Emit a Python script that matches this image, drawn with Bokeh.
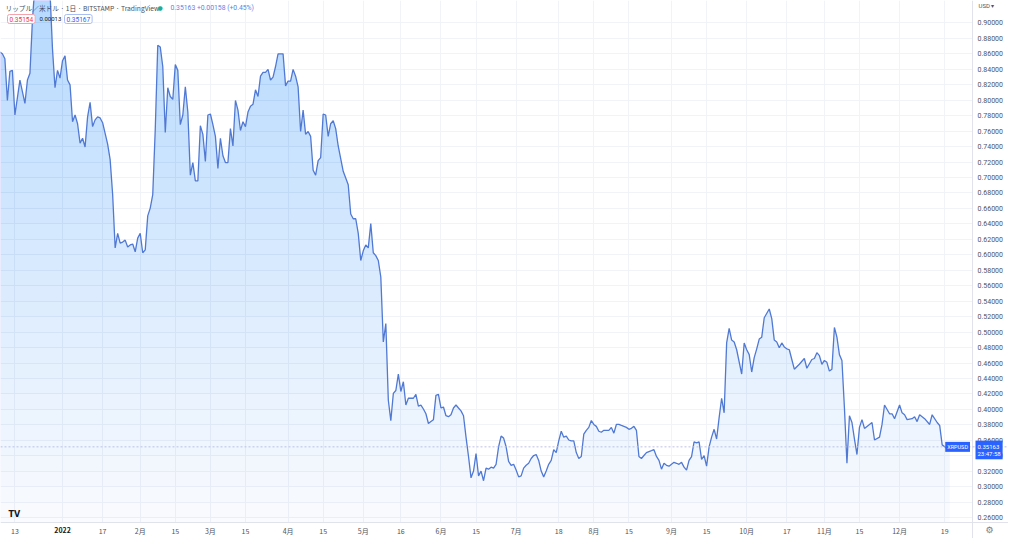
import numpy as np
import pandas as pd
from bokeh.plotting import figure
from bokeh.models import FixedTicker, PrintfTickFormatter, Label, Span, Range1d, ColumnDataSource, Grid
from bokeh.embed import file_html
from bokeh.resources import INLINE

# ---------------- data ----------------
dates = [
    "2021-12-07", "2021-12-08", "2021-12-09", "2021-12-10", "2021-12-11", "2021-12-12", "2021-12-13",
    "2021-12-15", "2021-12-17", "2021-12-18", "2021-12-19", "2021-12-20", "2021-12-21", "2021-12-22",
    "2021-12-23", "2021-12-24", "2021-12-25", "2021-12-26", "2021-12-27", "2021-12-28", "2021-12-29",
    "2021-12-30", "2021-12-31",
    "2022-01-01", "2022-01-02", "2022-01-03", "2022-01-04", "2022-01-05", "2022-01-06", "2022-01-07",
    "2022-01-08", "2022-01-09", "2022-01-10", "2022-01-11", "2022-01-12", "2022-01-13", "2022-01-14",
    "2022-01-15", "2022-01-16", "2022-01-17", "2022-01-18", "2022-01-19", "2022-01-20", "2022-01-21",
    "2022-01-22", "2022-01-23", "2022-01-24", "2022-01-25", "2022-01-26", "2022-01-27", "2022-01-28",
    "2022-01-29", "2022-01-30", "2022-01-31",
    "2022-02-01", "2022-02-02", "2022-02-03", "2022-02-04", "2022-02-05", "2022-02-06", "2022-02-07",
    "2022-02-08", "2022-02-09", "2022-02-10", "2022-02-11", "2022-02-12", "2022-02-13", "2022-02-14",
    "2022-02-15", "2022-02-16", "2022-02-17", "2022-02-18", "2022-02-19", "2022-02-20", "2022-02-21",
    "2022-02-22", "2022-02-23", "2022-02-24", "2022-02-25", "2022-02-26", "2022-02-27", "2022-02-28",
    "2022-03-01", "2022-03-02", "2022-03-03", "2022-03-04", "2022-03-05", "2022-03-06", "2022-03-07",
    "2022-03-08", "2022-03-09", "2022-03-10", "2022-03-11", "2022-03-12", "2022-03-13", "2022-03-14",
    "2022-03-15", "2022-03-16", "2022-03-17", "2022-03-18", "2022-03-19", "2022-03-20", "2022-03-21",
    "2022-03-22", "2022-03-23", "2022-03-24", "2022-03-25", "2022-03-26", "2022-03-27", "2022-03-28",
    "2022-03-29", "2022-03-30", "2022-03-31",
    "2022-04-01", "2022-04-02", "2022-04-03", "2022-04-04", "2022-04-05", "2022-04-06", "2022-04-07",
    "2022-04-08", "2022-04-09", "2022-04-10", "2022-04-11", "2022-04-12", "2022-04-13", "2022-04-14",
    "2022-04-15", "2022-04-16", "2022-04-17", "2022-04-18", "2022-04-19", "2022-04-20", "2022-04-21",
    "2022-04-22", "2022-04-23", "2022-04-24", "2022-04-25", "2022-04-26", "2022-04-27", "2022-04-28",
    "2022-04-29", "2022-04-30",
    "2022-05-01", "2022-05-02", "2022-05-03", "2022-05-04", "2022-05-05", "2022-05-06", "2022-05-07",
    "2022-05-08", "2022-05-09", "2022-05-10", "2022-05-11", "2022-05-12", "2022-05-13", "2022-05-14",
    "2022-05-15", "2022-05-16", "2022-05-17", "2022-05-18", "2022-05-19", "2022-05-20", "2022-05-21",
    "2022-05-22", "2022-05-23", "2022-05-24", "2022-05-25", "2022-05-26", "2022-05-27", "2022-05-28",
    "2022-05-29", "2022-05-30", "2022-05-31",
    "2022-06-01", "2022-06-02", "2022-06-03", "2022-06-04", "2022-06-05", "2022-06-06", "2022-06-07",
    "2022-06-08", "2022-06-09", "2022-06-10", "2022-06-11", "2022-06-12", "2022-06-13", "2022-06-14",
    "2022-06-15", "2022-06-16", "2022-06-17", "2022-06-18", "2022-06-19", "2022-06-20", "2022-06-21",
    "2022-06-22", "2022-06-23", "2022-06-24", "2022-06-25", "2022-06-26", "2022-06-27", "2022-06-28",
    "2022-06-29", "2022-06-30",
    "2022-07-01", "2022-07-02", "2022-07-03", "2022-07-04", "2022-07-05", "2022-07-06", "2022-07-07",
    "2022-07-08", "2022-07-09", "2022-07-10", "2022-07-11", "2022-07-12", "2022-07-13", "2022-07-14",
    "2022-07-15", "2022-07-16", "2022-07-17", "2022-07-18", "2022-07-19", "2022-07-20", "2022-07-21",
    "2022-07-22", "2022-07-23", "2022-07-24", "2022-07-25", "2022-07-26", "2022-07-27", "2022-07-28",
    "2022-07-29", "2022-07-30", "2022-07-31",
    "2022-08-01", "2022-08-02", "2022-08-03", "2022-08-04", "2022-08-05", "2022-08-06", "2022-08-07",
    "2022-08-08", "2022-08-09", "2022-08-10", "2022-08-11", "2022-08-12", "2022-08-13", "2022-08-14",
    "2022-08-15", "2022-08-16", "2022-08-17", "2022-08-18", "2022-08-19", "2022-08-20", "2022-08-21",
    "2022-08-22", "2022-08-23", "2022-08-24", "2022-08-25", "2022-08-26", "2022-08-27", "2022-08-28",
    "2022-08-29", "2022-08-30", "2022-08-31",
    "2022-09-01", "2022-09-02", "2022-09-03", "2022-09-04", "2022-09-05", "2022-09-06", "2022-09-07",
    "2022-09-08", "2022-09-09", "2022-09-10", "2022-09-11", "2022-09-12", "2022-09-13", "2022-09-14",
    "2022-09-15", "2022-09-16", "2022-09-17", "2022-09-18", "2022-09-19", "2022-09-20", "2022-09-21",
    "2022-09-22", "2022-09-23", "2022-09-24", "2022-09-25", "2022-09-26", "2022-09-27", "2022-09-29",
    "2022-09-30",
    "2022-10-01", "2022-10-02", "2022-10-03", "2022-10-04", "2022-10-05", "2022-10-06", "2022-10-07",
    "2022-10-08", "2022-10-10", "2022-10-11", "2022-10-12", "2022-10-13", "2022-10-14", "2022-10-15",
    "2022-10-16", "2022-10-17", "2022-10-18", "2022-10-19", "2022-10-20", "2022-10-22", "2022-10-24",
    "2022-10-25", "2022-10-27", "2022-10-28", "2022-10-29", "2022-10-30", "2022-10-31",
    "2022-11-01", "2022-11-02", "2022-11-03", "2022-11-04", "2022-11-05", "2022-11-06", "2022-11-07",
    "2022-11-08", "2022-11-09", "2022-11-10", "2022-11-11", "2022-11-12", "2022-11-13", "2022-11-14",
    "2022-11-15", "2022-11-16", "2022-11-17", "2022-11-19", "2022-11-20", "2022-11-21", "2022-11-23",
    "2022-11-24", "2022-11-25", "2022-11-27", "2022-11-28", "2022-11-29",
    "2022-12-01", "2022-12-02", "2022-12-03", "2022-12-04", "2022-12-06", "2022-12-07", "2022-12-08",
    "2022-12-09", "2022-12-11", "2022-12-13", "2022-12-14", "2022-12-16", "2022-12-17", "2022-12-18",
    "2022-12-19", "2022-12-20", "2022-12-21",
]

prices = [
    0.8624, 0.8599, 0.8536, 0.7996, 0.8373, 0.8385, 0.7808,
    0.8260, 0.7959, 0.8260, 0.8348, 0.9038, 0.9500, 0.9700,
    0.9900, 0.9600, 0.9400, 0.9500, 0.9400, 0.8660, 0.8160,
    0.8385, 0.8285,
    0.8510, 0.8573, 0.8260, 0.8197, 0.7720, 0.7808, 0.7695,
    0.7444, 0.7507, 0.7394, 0.7783, 0.7971, 0.7658, 0.7745,
    0.7783, 0.7770, 0.7708, 0.7570, 0.7432, 0.7231, 0.6779,
    0.6089, 0.6277, 0.6152, 0.6164, 0.6190, 0.6102, 0.6127,
    0.6139, 0.6039, 0.6215,
    0.6277, 0.6026, 0.6064, 0.6503, 0.6604, 0.6779, 0.7620,
    0.8711, 0.8686, 0.8435, 0.7582, 0.8160, 0.8047, 0.8009,
    0.8461, 0.8385, 0.7683, 0.7808, 0.8172, 0.7846, 0.7030,
    0.7193, 0.6955, 0.6955, 0.7670, 0.7557, 0.7206, 0.7808,
    0.7821, 0.7683, 0.7532, 0.7118, 0.7507, 0.7281, 0.7193,
    0.7193, 0.7632, 0.7407, 0.7996, 0.7871, 0.7607, 0.7720,
    0.7658, 0.7846, 0.7921, 0.7946, 0.8134, 0.8047, 0.8310,
    0.8360, 0.8360, 0.8398, 0.8260, 0.8297, 0.8435, 0.8599,
    0.8599, 0.8599, 0.8184,
    0.8247, 0.8247, 0.8398, 0.8310, 0.8172, 0.7595, 0.7871,
    0.7557, 0.7595, 0.7532, 0.7093, 0.7030, 0.7218, 0.7256,
    0.7821, 0.7808, 0.7532, 0.7695, 0.7733, 0.7632, 0.7407,
    0.7243, 0.7080, 0.6993, 0.6905, 0.6528, 0.6466, 0.6466,
    0.6277, 0.5926,
    0.6051, 0.6127, 0.6089, 0.6403, 0.6026, 0.5989, 0.5926,
    0.5713, 0.4872, 0.5111, 0.4119, 0.3856, 0.4207, 0.4245,
    0.4458, 0.4232, 0.4358, 0.4057, 0.4145, 0.4145, 0.4145,
    0.4195, 0.4044, 0.4057, 0.4006, 0.3944, 0.3818, 0.3843,
    0.3868, 0.4182, 0.4195,
    0.4019, 0.4031, 0.3919, 0.3906, 0.3931, 0.4019, 0.4057,
    0.4019, 0.3982, 0.3919, 0.3642, 0.3392, 0.3116, 0.3203,
    0.3430, 0.3141, 0.3203, 0.3078, 0.3241, 0.3228, 0.3254,
    0.3241, 0.3291, 0.3517, 0.3655, 0.3630, 0.3517, 0.3329,
    0.3278, 0.3291,
    0.3216, 0.3128, 0.3141, 0.3241, 0.3278, 0.3304, 0.3366,
    0.3404, 0.3417, 0.3341, 0.3203, 0.3128, 0.3203, 0.3291,
    0.3341, 0.3480, 0.3442, 0.3593, 0.3718, 0.3642, 0.3655,
    0.3605, 0.3593, 0.3593, 0.3442, 0.3366, 0.3392, 0.3680,
    0.3730, 0.3768, 0.3856,
    0.3806, 0.3781, 0.3718, 0.3705, 0.3730, 0.3730, 0.3730,
    0.3768, 0.3693, 0.3806, 0.3806, 0.3793, 0.3781, 0.3768,
    0.3743, 0.3756, 0.3781, 0.3730, 0.3392, 0.3366, 0.3404,
    0.3442, 0.3455, 0.3467, 0.3480, 0.3392, 0.3341, 0.3228,
    0.3304, 0.3278, 0.3266,
    0.3291, 0.3316, 0.3304, 0.3291, 0.3316, 0.3254, 0.3216,
    0.3341, 0.3391, 0.3580, 0.3567, 0.3580, 0.3353, 0.3404,
    0.3266, 0.3517, 0.3642, 0.3743, 0.3618, 0.3894, 0.4145,
    0.3957, 0.4860, 0.5048, 0.4897, 0.4872, 0.4772, 0.4458,
    0.4860,
    0.4772, 0.4709, 0.4484, 0.4671, 0.4784, 0.4910, 0.4935,
    0.5186, 0.5299, 0.5174, 0.4897, 0.4872, 0.4797, 0.4860,
    0.4809, 0.4784, 0.4772, 0.4646, 0.4521, 0.4584, 0.4659,
    0.4533, 0.4646, 0.4659, 0.4734, 0.4696, 0.4584,
    0.4634, 0.4609, 0.4496, 0.4521, 0.5060, 0.4935, 0.4709,
    0.4634, 0.4019, 0.3304, 0.3918, 0.3831, 0.3617, 0.3417,
    0.3768, 0.3868, 0.3755, 0.3806, 0.3831, 0.3605, 0.3642,
    0.3806, 0.4057, 0.3944, 0.3944, 0.3881,
    0.4057, 0.3956, 0.3931, 0.3868, 0.3881, 0.3906, 0.3843,
    0.3931, 0.3881, 0.3806, 0.3931, 0.3831, 0.3793, 0.3542,
    0.3517, 0.3492, 0.35163,
]

y_ticks = [round(0.26 + 0.02 * i, 2) for i in range(33)]
x_tick_dates = ["2021-12-13", "2022-01-01", "2022-01-17", "2022-02-01", "2022-02-15", "2022-03-01",
                "2022-03-15", "2022-04-01", "2022-04-15", "2022-05-01", "2022-05-16", "2022-06-01",
                "2022-06-15", "2022-07-01", "2022-07-18", "2022-08-01", "2022-08-15", "2022-09-01",
                "2022-09-15", "2022-10-01", "2022-10-17", "2022-11-01", "2022-11-15", "2022-12-01",
                "2022-12-19"]
x_tick_labels = ["13", "2022", "17", "2月", "15", "3月", "15", "4月", "15", "5月", "16", "6月",
                 "15", "7月", "18", "8月", "15", "9月", "15", "10月", "17", "11月", "15", "12月", "19"]

header_title = "リップル／米ドル · 1日 · BITSTAMP · TradingView"
header_quote = "0.35163  +0.00158 (+0.45%)"
box_low, box_change, box_high = "0.35154", "0.00013", "0.35167"
symbol = "XRPUSD"
last_price_text = "0.35163"
countdown = "23:47:58"

# ---------------- geometry ----------------
FW, FH = 1008, 538          # whole figure is the frame
SEP_X, SEP_Y = 972, 522     # pane / price-scale and pane / time-scale separators (px)
base = pd.Timestamp("2022-01-01")
ms = lambda ts: ts.value / 1e6
DAY = 86400000.0
X0 = ms(base) - 24.75 * DAY
X_SEP = ms(base) + 363.1 * DAY
X1 = X0 + (X_SEP - X0) * FW / SEP_X
Y1 = 0.92886
Y_SEP = 0.2538
Y0 = Y1 - (Y1 - Y_SEP) * FH / SEP_Y

def dx(px):
    return X0 + (X1 - X0) * px / FW

def dy(py):
    return Y1 - (Y1 - Y0) * py / FH

p = figure(width=FW, height=FH, x_axis_type="datetime", y_axis_location="right",
           x_range=Range1d(X0, X1), y_range=Range1d(Y0, Y1),
           output_backend="svg", toolbar_location=None,
           min_border_left=0, min_border_top=0, min_border_right=0, min_border_bottom=0)
p.background_fill_color = "white"
p.border_fill_color = "white"
p.outline_line_color = None

t = pd.to_datetime(dates)
price_arr = np.array(prices)
src = ColumnDataSource(dict(x=t, y=price_arr))

# gradient area: stacked translucent layers (more layers higher up)
FILL = "#3456d6"
p.varea(x=t, y1=Y_SEP, y2=price_arr, fill_color=FILL, fill_alpha=0.025)
for L in np.arange(0.26, 0.94, 0.02):
    p.varea(x=t, y1=L, y2=np.maximum(price_arr, L), fill_color=FILL, fill_alpha=0.009)

LINE = "#5079d4"
p.line("x", "y", source=src, line_color=LINE, line_width=1.3)
p.scatter(x=[t[-1]], y=[price_arr[-1]], size=5, fill_color="white", line_color=LINE, line_width=1.2)

p.add_layout(Span(location=price_arr[-1], dimension="width", line_color="#b7c3e6",
                  line_dash="2 2", line_width=1))

# ---------------- axes (drawn at the separators) ----------------
xt = [ms(pd.Timestamp(d)) for d in x_tick_dates]
xticker = FixedTicker(ticks=xt)
p.xaxis.ticker = xticker
p.xgrid.ticker = xticker
p.xaxis.major_label_overrides = {v: ("" if lab == "2022" else lab) for v, lab in zip(xt, x_tick_labels)}
p.xaxis.fixed_location = Y_SEP
p.xaxis.major_label_text_font = "Noto Sans CJK JP"
p.xaxis.major_label_text_font_size = "7px"
p.xaxis.major_label_text_color = "#50535e"
p.xaxis.major_label_standoff = 3
p.xaxis.major_tick_out = 0
p.xaxis.major_tick_in = 0
p.xaxis.minor_tick_out = 0
p.xaxis.minor_tick_in = 0
p.xaxis.major_tick_line_color = None
p.xaxis.minor_tick_line_color = None
p.xaxis.axis_line_color = "#e0e3eb"

yticker = FixedTicker(ticks=y_ticks)
p.yaxis.ticker = yticker
p.ygrid.ticker = yticker
p.yaxis.fixed_location = X_SEP
p.yaxis.formatter = PrintfTickFormatter(format="%.5f")
p.yaxis.major_label_text_font = "Roboto"
p.yaxis.major_label_text_font_size = "7px"
p.yaxis.major_label_text_color = "#50535e"
p.yaxis.major_label_standoff = 5
p.yaxis.major_tick_out = 0
p.yaxis.major_tick_in = 0
p.yaxis.minor_tick_out = 0
p.yaxis.minor_tick_in = 0
p.yaxis.major_tick_line_color = None
p.yaxis.minor_tick_line_color = None
p.yaxis.axis_line_color = "#e0e3eb"

p.xgrid.grid_line_color = "#f1f3f8"
p.ygrid.grid_line_color = "#f1f3f8"
if "cross_bounds" in Grid.properties():
    p.xgrid.cross_bounds = (Y_SEP, Y1)
    p.ygrid.cross_bounds = (X0, X_SEP)

# bold year label on the time scale
p.add_layout(Label(x=ms(base), y=dy(SEP_Y + 7), text="2022", text_font="Noto Sans CJK JP",
                   text_font_size="7px", text_font_style="bold", text_color="#131722",
                   text_align="center", text_baseline="middle"))

# ---------------- header ----------------
p.add_layout(Label(x=dx(5), y=dy(7), text=header_title, text_font="Noto Sans CJK JP",
                   text_font_size="6.7px", text_color="#4a4d58", text_baseline="middle"))
p.add_layout(Label(x=dx(157), y=dy(7), text="●", text_font="DejaVu Sans",
                   text_font_size="6px", text_color="#22ab94", text_baseline="middle"))
p.add_layout(Label(x=dx(170), y=dy(7), text=header_quote, text_font="Roboto",
                   text_font_size="6.8px", text_color="#5b86e5", text_baseline="middle"))
p.add_layout(Label(x=dx(7), y=dy(18.5), text=box_low, text_font="Roboto", text_font_size="6.5px",
                   text_color="#f23645", text_baseline="middle", background_fill_color="white",
                   border_line_color="#f5a3aa", padding=2, border_radius=2))
p.add_layout(Label(x=dx(39), y=dy(18.5), text=box_change, text_font="Roboto", text_font_size="6px",
                   text_color="#131722", text_baseline="middle"))
p.add_layout(Label(x=dx(64), y=dy(18.5), text=box_high, text_font="Roboto", text_font_size="6.5px",
                   text_color="#2962ff", text_baseline="middle", background_fill_color="white",
                   border_line_color="#a9bdf5", padding=2, border_radius=2))

# ---------------- price scale extras ----------------
p.add_layout(Label(x=dx(978), y=dy(5), text="USD ▾", text_font="Roboto", text_font_size="6px",
                   text_color="#50535e", text_baseline="middle"))
p.add_layout(Label(x=X_SEP - 1.0 * DAY, y=price_arr[-1], text=symbol, text_font="Roboto",
                   text_font_size="5.5px", text_color="white", text_align="right", text_baseline="middle",
                   background_fill_color="#2962ff", padding=2))
p.add_layout(Label(x=dx(SEP_X + 3), y=price_arr[-1] - 0.004, text=last_price_text + "\n" + countdown,
                   text_font="Roboto", text_font_size="6px", text_color="white", text_baseline="middle",
                   text_line_height=1.1, background_fill_color="#2962ff", padding=2))

# ---------------- corner decorations ----------------
p.add_layout(Label(x=dx(8), y=dy(514), text="TV", text_font="DejaVu Sans", text_font_size="8px",
                   text_font_style="bold", text_color="#131722", text_baseline="middle"))
p.add_layout(Label(x=dx(989), y=dy(529), text="⚙", text_font="DejaVu Sans", text_font_size="9px",
                   text_color="#787b86", text_align="center", text_baseline="middle"))

open("out.html", "w").write(file_html(p, INLINE))
